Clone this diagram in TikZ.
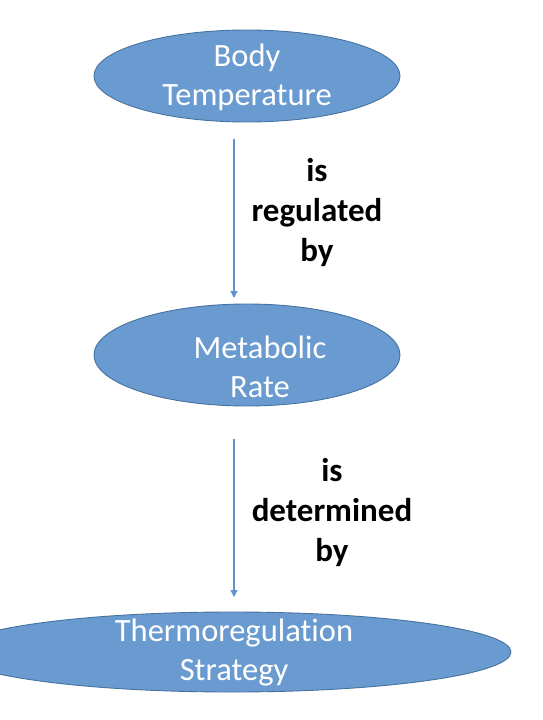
\documentclass[tikz,border=0pt]{standalone}
\usepackage{fontspec}
\setmainfont{Carlito}[Ligatures=NoCommon]
\usetikzlibrary{shapes.geometric,arrows.meta}
\definecolor{efill}{RGB}{106,155,208}
\definecolor{edraw}{RGB}{70,114,160}
\definecolor{arrc}{RGB}{98,147,205}
\tikzset{
  oval/.style={ellipse, fill=efill, draw=edraw, line width=0.9pt, inner sep=0pt},
  otext/.style={text=white, align=center, font=\fontsize{32.5}{39}\selectfont, inner sep=0pt},
  rel/.style={text=black, align=center, font=\bfseries\fontsize{33}{40}\selectfont, inner sep=0pt},
  arr/.style={draw=arrc, line width=1.1pt, -{Triangle[width=7pt,length=7pt]}}
}
\begin{document}
\begin{tikzpicture}[x=1pt,y=-1pt]
\useasboundingbox (0,0) rectangle (542,720);
\fill[white] (0,0) rectangle (542,720);
\begin{scope}
\clip (0,0) rectangle (542,720);
\node[oval, minimum width=306pt, minimum height=92pt] (e1) at (247,76) {};
\node[oval, minimum width=306pt, minimum height=102pt] (e2) at (247,355) {};
\node[oval, minimum width=558pt, minimum height=80pt] (e3) at (232,652) {};
\end{scope}
\node[otext] (t1) at (247,77) {Body\\Temperature};
\node[otext] (t2) at (260,367) {Metabolic\\Rate};
\node[otext] (t3) at (234,653) {Thermoregulation\\Strategy};
\node[rel] (r1) at (317,213) {is\\regulated\\by};
\node[rel] (r2) at (332,513) {is\\determined\\by};
\coordinate (a1s) at (234,139);
\coordinate (a1e) at (234,298);
\coordinate (a2s) at (234,439);
\coordinate (a2e) at (234,597);
\draw[arr] (a1s) -- (a1e);
\draw[arr] (a2s) -- (a2e);
\end{tikzpicture}
\end{document}
